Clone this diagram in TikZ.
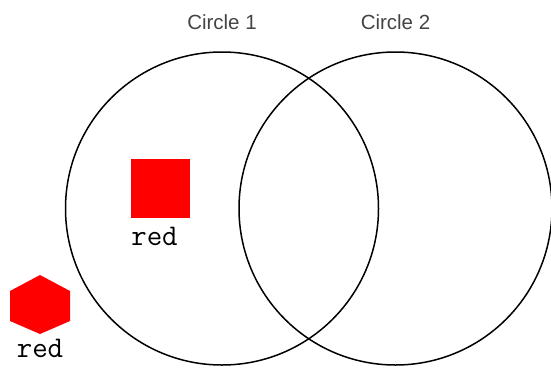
\documentclass[tikz,border=0pt]{standalone}
\usepackage{fontspec}
\setsansfont{Liberation Sans}
\usetikzlibrary{positioning}
\definecolor{labelgray}{HTML}{444444}
\definecolor{shapered}{HTML}{FF0000}
\begin{document}
\begin{tikzpicture}[
  x=1pt, y=-1pt,
  ring/.style={draw, circle, line width=1.5pt, minimum size=313pt, inner sep=0pt},
  title/.style={font=\sffamily\fontsize{20.5}{23}\selectfont, text=labelgray},
  tag/.style={font=\ttfamily\fontsize{30}{32}\selectfont}
]
\useasboundingbox (0,0) rectangle (551,370);
\node[ring] (c1) at (222,208.5) {};
\node[ring] (c2) at (395.5,208.5) {};
\node[title, above=18pt of c1.north] (t1) {Circle 1};
\node[title, above=18pt of c2.north] (t2) {Circle 2};
% red square with its tag
\node[fill=shapered, minimum size=59pt, inner sep=0pt] (sq) at (160.5,188) {};
\node[tag, below=6pt of sq.south west, anchor=north west, xshift=-3pt] (sqtag) {red};
% red hexagon with its tag
\fill[shapered] (40,275) -- (70,291) -- (70,321) -- (40,334) -- (10,321) -- (10,291) -- cycle;
\coordinate (hex) at (40,334);
\node[tag, below=2pt of hex] (hextag) {red};
\end{tikzpicture}
\end{document}
